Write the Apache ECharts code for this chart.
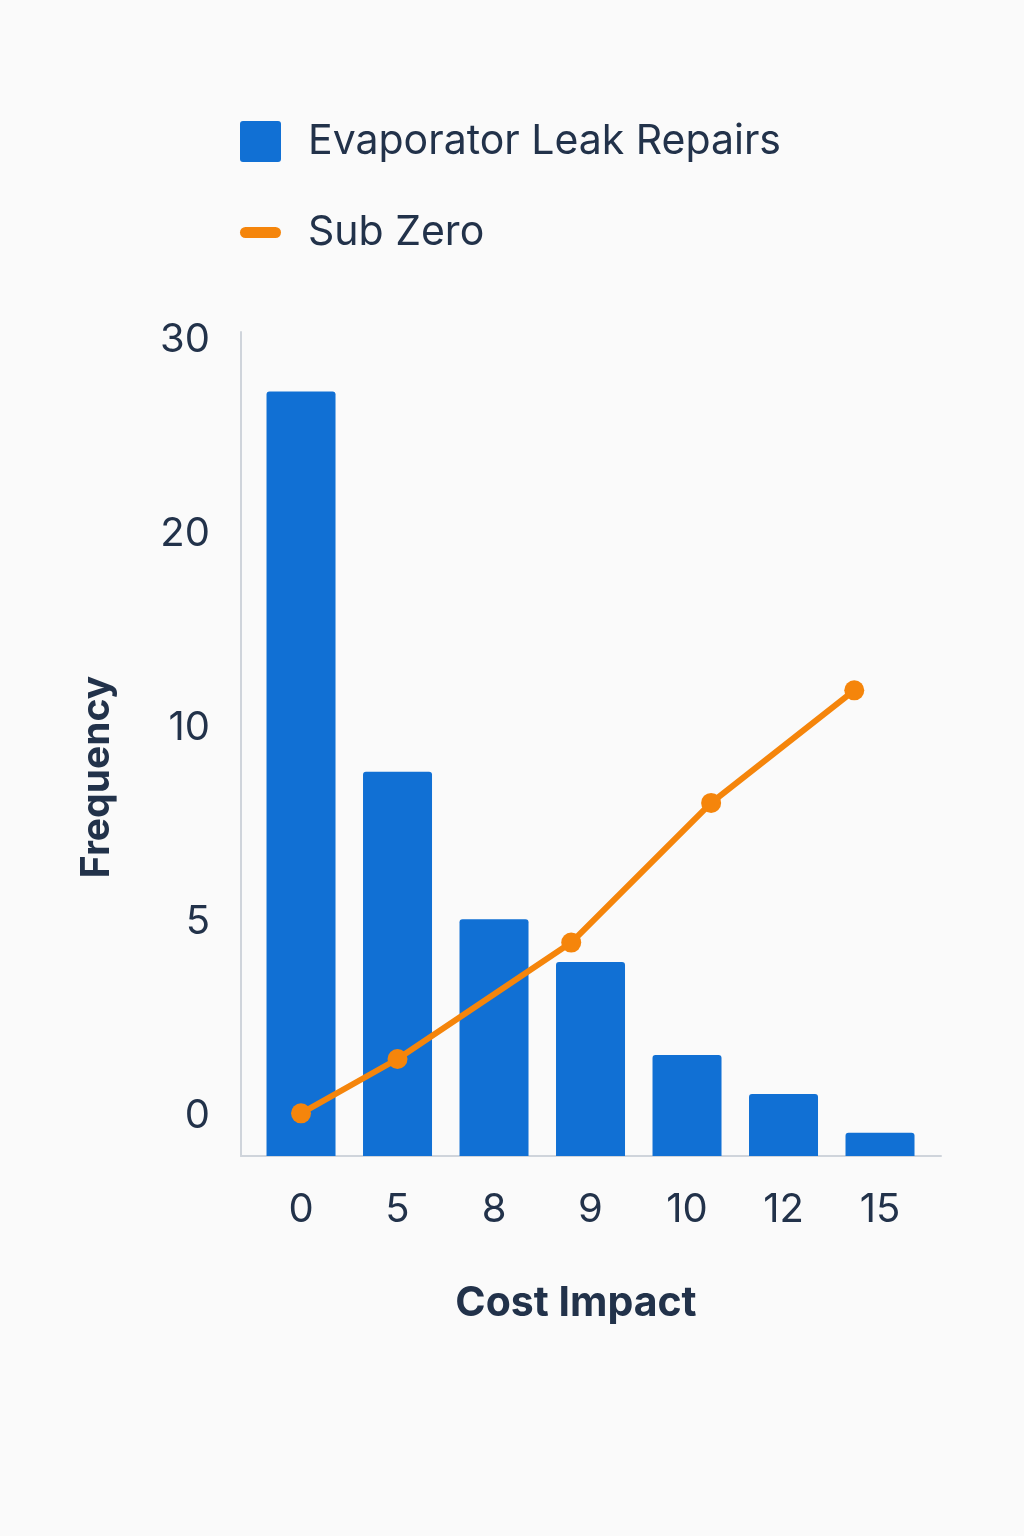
<!DOCTYPE html>
<html>
<head>
<meta charset="utf-8">
<title>Evaporator Leak Repairs</title>
<script src="https://cdn.jsdelivr.net/npm/echarts@6/dist/echarts.min.js"></script>
<style>
  html, body { margin: 0; padding: 0; background: #fafafa; }
  #main { width: 1024px; height: 1536px; }
</style>
</head>
<body>
<div id="main"></div>
<script>
// x categories (cost impact) and y tick labels (frequency)
const costCategories = [0, 5, 8, 9, 10, 12, 15];
const yTicks = [0, 5, 10, 20, 30];

// bar series: one value per cost category
const repairCounts = [29.4, 9.9, 6.1, 5.0, 2.6, 1.6, 0.6];

// line series: cost impact / frequency pairs
const subZeroCost = [0, 5, 8.8, 10.5, 14.2];
const subZeroFreq = [1.1, 2.5, 5.5, 9.1, 14.0];

const textColor = '#22324a';
const fontFamily = 'Inter, "Noto Sans", sans-serif';

// the axes are evenly spaced between uneven tick values,
// so a value is placed by where it falls between two ticks
function toPos(v, stops) {
  for (let i = 0; i < stops.length - 1; i++) {
    if (v <= stops[i + 1] || i === stops.length - 2) {
      return i + (v - stops[i]) / (stops[i + 1] - stops[i]);
    }
  }
  return 0;
}

const barData = repairCounts.map((v, i) => [i, toPos(v, yTicks)]);
const lineData = subZeroCost.map((c, i) => [toPos(c, costCategories), toPos(subZeroFreq[i], yTicks)]);

const chart = echarts.init(document.getElementById('main'));

chart.setOption({
  backgroundColor: '#fafafa',
  textStyle: { fontFamily: fontFamily },
  animation: false,
  legend: {
    orient: 'vertical',
    left: 235,
    top: 116,
    itemWidth: 41,
    itemHeight: 41,
    itemGap: 50,
    textStyle: { fontSize: 41, color: textColor, fontFamily: fontFamily, padding: [0, 0, 0, 22] },
    data: [
      { name: 'Evaporator Leak Repairs', icon: 'path://M3,0 H38 A3,3 0 0 1 41,3 V38 A3,3 0 0 1 38,41 H3 A3,3 0 0 1 0,38 V3 A3,3 0 0 1 3,0 Z' },
      { name: 'Sub Zero', icon: 'path://M5.5,0 H35.5 A5.5,5.5 0 0 1 35.5,11 H5.5 A5.5,5.5 0 0 1 5.5,0 Z' }
    ]
  },
  grid: { left: 241, right: 83, top: 332, bottom: 380, containLabel: false },
  xAxis: {
    type: 'value',
    min: -0.622,
    max: 6.632,
    name: 'Cost Impact',
    nameLocation: 'middle',
    nameGap: 127,
    nameTextStyle: { fontSize: 41, fontWeight: 'bold', color: textColor, padding: [0, 30, 0, 0] },
    axisLine: { show: true, onZero: false, lineStyle: { color: '#cfd4db', width: 2 } },
    axisTick: { show: false },
    splitLine: { show: false },
    axisLabel: {
      customValues: costCategories.map((c, i) => i),
      formatter: (v) => String(costCategories[Math.round(v)]),
      fontSize: 40,
      color: textColor,
      margin: 34
    }
  },
  yAxis: {
    type: 'value',
    min: 0,
    max: 4.247,
    name: 'Frequency',
    nameLocation: 'middle',
    nameGap: 124,
    nameTextStyle: { fontSize: 39, fontWeight: 'bold', color: textColor, padding: [0, 66, 0, 0] },
    axisLine: { show: true, onZero: false, lineStyle: { color: '#cfd4db', width: 2 } },
    axisTick: { show: false },
    splitLine: { show: false },
    axisLabel: {
      customValues: yTicks.map((t, i) => i),
      formatter: (v) => String(yTicks[Math.round(v)]),
      fontSize: 40,
      color: textColor,
      margin: 31,
      // labels sit just above their tick
      verticalAlign: 'bottom',
      lineHeight: 80
    }
  },
  series: [
    {
      name: 'Evaporator Leak Repairs',
      type: 'bar',
      barWidth: 69,
      data: barData,
      itemStyle: { color: '#1170d4', borderRadius: [3, 3, 0, 0] }
    },
    {
      name: 'Sub Zero',
      type: 'line',
      data: lineData,
      symbol: 'circle',
      symbolSize: 20,
      lineStyle: { color: '#f5850b', width: 6 },
      itemStyle: { color: '#f5850b' },
      z: 3
    }
  ]
});
</script>
</body>
</html>
